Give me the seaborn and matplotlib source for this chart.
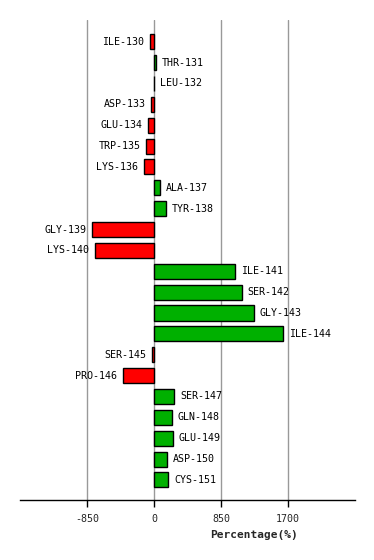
import matplotlib
matplotlib.use("Agg")
import matplotlib.pyplot as plt
import seaborn as sns
import pandas as pd

# -----------------------------
# 1. Data
# -----------------------------
residues = [
    "ILE-130", "THR-131", "LEU-132", "ASP-133", "GLU-134", "TRP-135",
    "LYS-136", "ALA-137", "TYR-138", "GLY-139", "LYS-140", "ILE-141",
    "SER-142", "GLY-143", "ILE-144", "SER-145", "PRO-146", "SER-147",
    "GLN-148", "GLU-149", "ASP-150", "CYS-151",
]
percentages = [
    -55, 25, 3, -38, -76, -101,
    -127, 81, 157, -787, -749, 1033,
    1117, 1274, 1642, -25, -393, 259,
    233, 246, 170, 183,
]
x_ticks = [-850, 0, 850, 1700]

df = pd.DataFrame({"Residue": residues, "Percentage": percentages})
df["Sign"] = ["neg" if v < 0 else "pos" for v in df["Percentage"]]

# -----------------------------
# 2. Basic setup
# -----------------------------
sns.set_theme(style="white")
plt.rcParams["font.family"] = ["DejaVu Sans Mono"]

fig = plt.figure(figsize=(3.74, 5.6), dpi=100)
ax = fig.add_axes([20 / 374, 60 / 560, 335 / 374, 480 / 560])

# -----------------------------
# 3. Bars
# -----------------------------
sns.barplot(
    data=df,
    x="Percentage",
    y="Residue",
    hue="Sign",
    palette={"neg": "#ff0000", "pos": "#00b000"},
    saturation=1,
    dodge=False,
    width=0.72,
    edgecolor="black",
    linewidth=1,
    legend=False,
    ax=ax,
)

for i, (name, v) in enumerate(zip(residues, percentages)):
    if v < 0:
        ax.annotate(name, (v, i), xytext=(-4, 0), textcoords="offset points",
                    ha="right", va="center", fontsize=7.2, color="black")
    else:
        ax.annotate(name, (v, i), xytext=(4, 0), textcoords="offset points",
                    ha="left", va="center", fontsize=7.2, color="black")

# -----------------------------
# 4. Axes styling
# -----------------------------
ax.set_xlim(-1700, 2550)
ax.set_ylim(21.96, -1.04)
ax.set_xticks(x_ticks)
ax.set_xticklabels([str(t) for t in x_ticks], fontsize=7.2)
ax.set_yticks([])
ax.set_ylabel("")
ax.set_xlabel("Percentage(%)", fontsize=8, fontweight="bold")
ax.xaxis.set_label_coords(0.70, -0.062)

ax.grid(axis="x", color="#999999", linewidth=1)
ax.set_axisbelow(True)
for side in ["top", "right", "left"]:
    ax.spines[side].set_visible(False)
ax.spines["bottom"].set_color("black")
ax.spines["bottom"].set_linewidth(1)
ax.tick_params(axis="x", direction="out", length=5, width=1, color="black",
               bottom=True, pad=5)

fig.savefig("out.png", dpi=100)
